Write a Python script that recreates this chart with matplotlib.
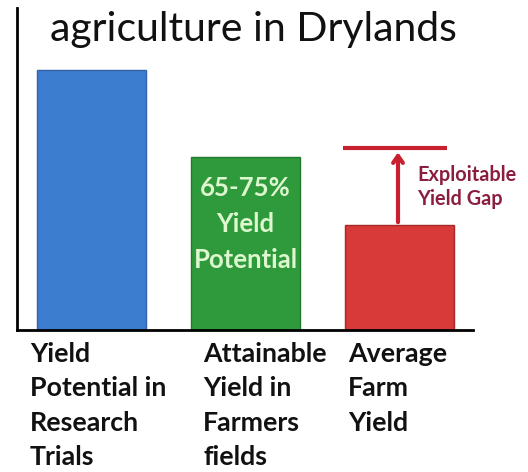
import matplotlib
matplotlib.use("Agg")
import matplotlib.pyplot as plt

categories = ["Yield\nPotential in\nResearch\nTrials",
              "Attainable\nYield in\nFarmers\nfields",
              "Average\nFarm\nYield"]
values = [100, 66.5, 40.4]
attainable_level = 70
colors = ["#3D7DCF", "#2E9A3B", "#D83A3A"]
edges = ["#2F64A8", "#237A2D", "#A82828"]
title = "agriculture in Drylands"
bar_text = "65-75%\nYield\nPotential"
gap_text = "Exploitable\nYield Gap"

plt.rcParams['font.family'] = ['Lato', 'DejaVu Sans']

fig = plt.figure(figsize=(5.28, 4.72), dpi=100)
W, H = 528, 472
ax = fig.add_axes([17 / W, (H - 330) / H, (473 - 17) / W, (330 - 8) / H])
x = [0, 1, 2]
ax.bar(x, values, width=0.71, color=colors, edgecolor=edges, linewidth=1.0, zorder=2)
ax.set_xlim(-0.484, 2.477)
ax.set_ylim(0, 322 / 2.6)
for s in ["top", "right"]:
    ax.spines[s].set_visible(False)
ax.spines["left"].set_linewidth(2)
ax.spines["bottom"].set_linewidth(2)
ax.set_xticks([])
ax.set_yticks([])

# bar text in green bar
ax.text(1, 40.8, bar_text, ha="center", va="center", color="#DDF7CF",
        fontsize=18.5, fontweight="bold", linespacing=1.58, zorder=3,
        clip_on=False)

# exploitable gap line and arrow
ax.plot([1.63, 2.31], [attainable_level, attainable_level],
        color="#C8202E", lw=3, solid_capstyle="butt", zorder=3)
ax.annotate("", xy=(1.99, attainable_level - 0.6), xytext=(1.99, values[2]),
            arrowprops=dict(arrowstyle="->,head_length=0.5,head_width=0.35",
                            color="#C8202E", lw=3), zorder=3)
ax.text(2.117, 55, gap_text, ha="left", va="center", color="#8B1E3F",
        fontsize=14.3, fontweight="bold", linespacing=1.25, clip_on=False)

# title
fig.text(50 / W, 1 - 30 / H, title, ha="left", va="center", fontsize=29.5,
         color="#111111")

# category labels
label_x = [30, 203, 348]
for lx, lab in zip(label_x, categories):
    fig.text(lx / W, 1 - 342 / H, lab, ha="left", va="top", fontsize=19.3,
             fontweight="bold", linespacing=1.52, color="#111111")

fig.savefig("out.png", dpi=100)
